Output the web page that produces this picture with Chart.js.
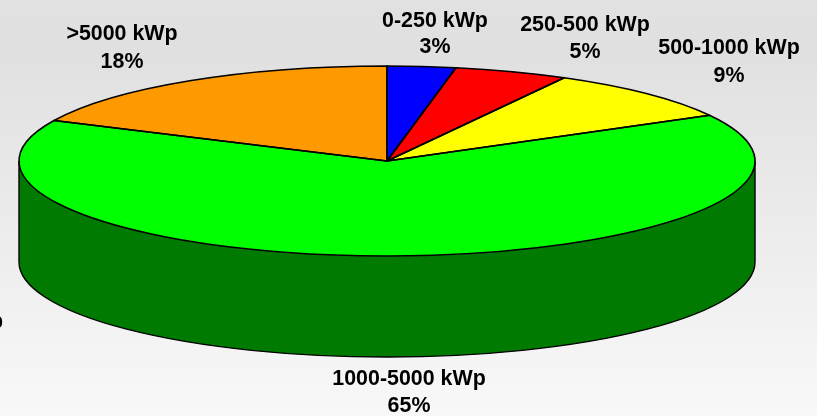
<!DOCTYPE html>
<html>
<head>
<meta charset="utf-8">
<style>
  html, body { margin: 0; padding: 0; width: 817px; height: 416px; overflow: hidden; }
  body { background: linear-gradient(to bottom, #e1e1e1 0%, #e0e0e0 12%, #f8f8f8 100%); }
  canvas { display: block; }
</style>
<script src="https://cdn.jsdelivr.net/npm/chart.js@4/dist/chart.umd.min.js"></script>
</head>
<body>
<canvas id="chart" width="817" height="416"></canvas>
<script>
const categories = ['0-250 kWp', '250-500 kWp', '500-1000 kWp', '1000-5000 kWp', '>5000 kWp'];
const shares = [3, 5, 9, 65, 18];
const topColors = ['#0000ff', '#ff0000', '#ffff00', '#00ff00', '#ff9900'];
const sideColors = ['#00007a', '#7a0000', '#7a7a00', '#007a00', '#7a4900'];

// where the flattened disc sits on the page
const disc = { x: 387, y: 161, rx: 368, ry: 95, depth: 101 };
// label centres, same order as categories (x, first line y, second line y)
const labelSpots = [[435, 21, 47], [585, 25, 52], [729, 48, 76], [409, 379, 406], [122, 34, 62]];

const pie3d = {
    id: 'pie3d',
    beforeDatasetDraw(chart) {
        const ctx = chart.ctx;
        const arcs = chart.getDatasetMeta(0).data;
        // side wall, only the part of each slice facing the viewer (0..PI)
        arcs.forEach((arc, i) => {
            const a0 = Math.max(arc.startAngle, 0);
            const a1 = Math.min(arc.endAngle, Math.PI);
            if (a1 <= a0) return;
            ctx.beginPath();
            ctx.ellipse(disc.x, disc.y, disc.rx, disc.ry, 0, a0, a1);
            ctx.ellipse(disc.x, disc.y + disc.depth, disc.rx, disc.ry, 0, a1, a0, true);
            ctx.closePath();
            ctx.fillStyle = sideColors[i];
            ctx.fill();
        });
        ctx.beginPath();
        ctx.moveTo(disc.x - disc.rx, disc.y);
        ctx.lineTo(disc.x - disc.rx, disc.y + disc.depth);
        ctx.ellipse(disc.x, disc.y + disc.depth, disc.rx, disc.ry, 0, Math.PI, 0, true);
        ctx.lineTo(disc.x + disc.rx, disc.y);
        ctx.strokeStyle = '#000';
        ctx.lineWidth = 1.4;
        ctx.stroke();
        // squash the library's circle into the disc
        const first = arcs[0];
        ctx.save();
        ctx.translate(disc.x, disc.y);
        ctx.scale(disc.rx / first.outerRadius, disc.ry / first.outerRadius);
        ctx.translate(-first.x, -first.y);
    },
    afterDatasetDraw(chart) {
        const ctx = chart.ctx;
        ctx.restore();
        chart.getDatasetMeta(0).data.forEach(arc => {
            ctx.beginPath();
            ctx.moveTo(disc.x, disc.y);
            ctx.ellipse(disc.x, disc.y, disc.rx, disc.ry, 0, arc.startAngle, arc.endAngle);
            ctx.closePath();
            ctx.strokeStyle = '#000';
            ctx.lineWidth = 1.6;
            ctx.lineJoin = 'round';
            ctx.stroke();
        });
    },
    afterDraw(chart) {
        const ctx = chart.ctx;
        ctx.save();
        ctx.font = 'bold 21.4px "Liberation Sans", Arial, sans-serif';
        ctx.fillStyle = '#000';
        ctx.textAlign = 'center';
        ctx.textBaseline = 'middle';
        categories.forEach((name, i) => {
            const [x, y1, y2] = labelSpots[i];
            ctx.fillText(name, x, y1);
            ctx.fillText(shares[i] + '%', x, y2);
        });
        // stray label cut off by the left edge of the original
        ctx.textAlign = 'right';
        ctx.fillText('kWp', 3, 322);
        ctx.restore();
    }
};

new Chart(document.getElementById('chart'), {
    type: 'pie',
    data: {
        labels: categories,
        datasets: [{
            data: shares,
            backgroundColor: topColors,
            borderWidth: 0,
            clip: false
        }]
    },
    options: {
        responsive: false,
        animation: false,
        plugins: {
            legend: { display: false },
            tooltip: { enabled: false }
        }
    },
    plugins: [pie3d]
});
</script>
</body>
</html>
